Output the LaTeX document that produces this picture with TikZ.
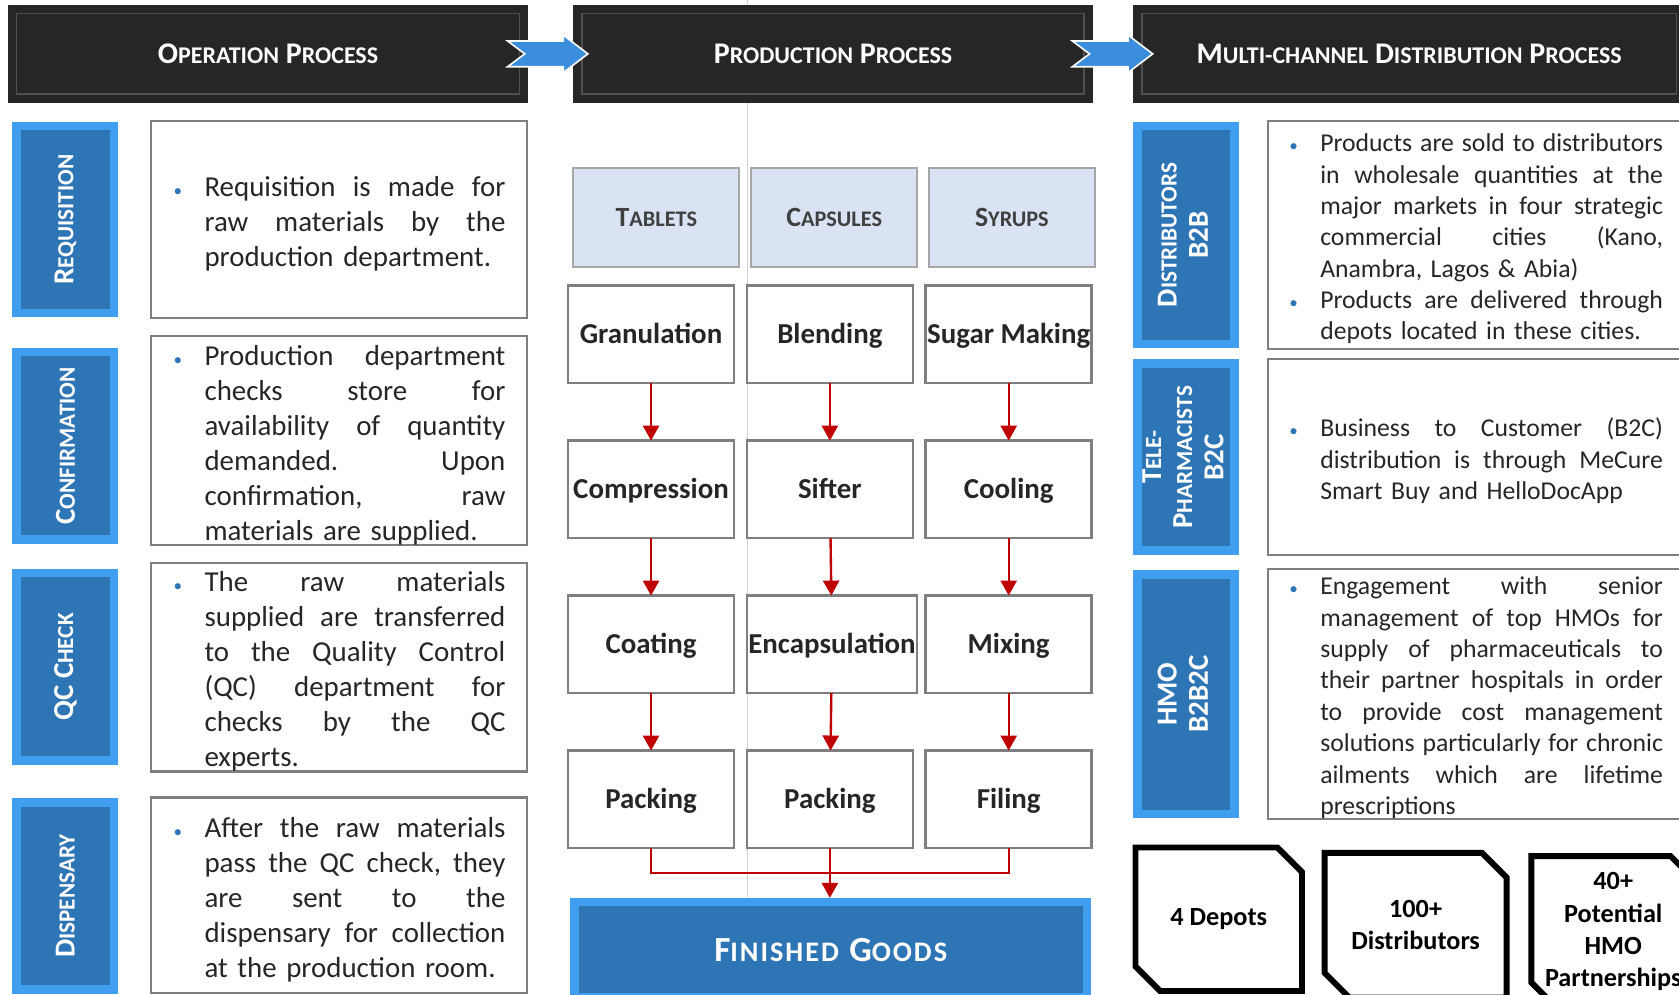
\documentclass[tikz,border=0pt]{standalone}
\usepackage{fontspec}
\setmainfont{Carlito}
\usepackage{xcolor}
\usepackage{tikz}
\usetikzlibrary{arrows.meta,positioning,calc}

\definecolor{headblack}{HTML}{262626}
\definecolor{headrim}{HTML}{4F4F4F}
\definecolor{bevelblue}{HTML}{3F9FEE}
\definecolor{coreblue}{HTML}{2E75B6}
\definecolor{chevblue}{HTML}{3A8EDC}
\definecolor{catfill}{HTML}{DAE3F3}
\definecolor{catline}{HTML}{A6A6A6}
\definecolor{cattext}{HTML}{404040}
\definecolor{boxgray}{HTML}{7F7F7F}
\definecolor{flowred}{HTML}{C00000}
\definecolor{inktext}{HTML}{262626}
\definecolor{guidegray}{HTML}{D0D0D0}

\hbadness=10000 \hfuzz=30pt
\frenchspacing
% fake small caps: big first letter, shrunk rest
\newcommand{\smc}[2]{#1\scalebox{0.8}{#2}}
\newlength{\bulind}\setlength{\bulind}{30pt}
\newcommand{\bul}{\llap{\textcolor{coreblue}{\fontsize{16}{16}\selectfont\textbullet}\hskip 21pt}}
\newcommand{\fb}{\rule{0pt}{1em}\bul}
% justified line / last line of a bullet text
\newcommand{\jline}[1]{\hbox to\hsize{\spaceskip=\fontdimen2\font plus 1fil\relax\hskip\bulind #1}}
\newcommand{\lline}[1]{\hbox to\hsize{\hskip\bulind #1\hfil}}

\begin{document}
\begin{tikzpicture}[
  x=1pt, y=-1pt,
  every node/.style={inner sep=0pt, outer sep=0pt},
  headbox/.style={fill=headblack, minimum height=91pt, text=white, font=\bfseries\fontsize{28}{34}\selectfont,
    path picture={\draw[headrim, line width=1.4pt] ([shift={(8pt,-8pt)}]path picture bounding box.north west) rectangle ([shift={(-8pt,8pt)}]path picture bounding box.south east);}},
  bevel/.style={fill=bevelblue,
    path picture={\fill[coreblue] ([shift={(8pt,-8pt)}]path picture bounding box.north west) rectangle ([shift={(-8pt,8pt)}]path picture bounding box.south east);}},
  sidebox/.style={bevel, minimum width=99pt, text=white, font=\bfseries\fontsize{27}{29}\selectfont},
  txtbox/.style={draw=boxgray, line width=2pt, fill=white, text=inktext, font=\fontsize{27}{32.7}\selectfont, text width=311pt, minimum width=351pt},
  rtxtbox/.style={txtbox, font=\fontsize{24}{29.3}\selectfont, text width=350pt, minimum width=388pt},
  catbox/.style={draw=catline, fill=catfill, line width=2pt, minimum width=155pt, minimum height=92pt, text=cattext, font=\bfseries\fontsize{26}{30}\selectfont, text height=19pt, text depth=2pt},
  procbox/.style={draw=boxgray, fill=white, line width=2.5pt, minimum width=155pt, minimum height=91pt, text=inktext, font=\bfseries\fontsize{27}{30}\selectfont, text height=20pt, text depth=3pt},
  goods/.style={bevel, minimum width=487pt, minimum height=97pt, text=white, font=\bfseries\fontsize{33}{36}\selectfont\addfontfeature{LetterSpace=7}},
  statnode/.style={align=center, font=\bfseries\fontsize{24.5}{30}\selectfont},
  statline/.style={draw=black, line width=5.5pt},
  flow/.style={draw=flowred, line width=2.2pt, -{Triangle[length=14pt,width=15pt]}},
  chev/.style={fill=chevblue, draw=white, line width=1.5pt}
]
  \useasboundingbox (0,0) rectangle (1568,929);
  \clip (0,0) rectangle (1568,929);
  \draw[guidegray, line width=1pt] (698.5,0) -- (698.5,838);

  % Process headers
  \node[headbox, minimum width=485.5pt] (ophead) at (250.3,50.3) {\smc{O}{PERATION} \smc{P}{ROCESS}};
  \node[headbox, minimum width=485pt] (prodhead) at (778,50.3) {\smc{P}{RODUCTION} \smc{P}{ROCESS}};
  \node[headbox, minimum width=515pt] (disthead) at (1316,50.3) {\smc{M}{ULTI-CHANNEL} \smc{D}{ISTRIBUTION} \smc{P}{ROCESS}};
  \foreach \h in {ophead,prodhead}
    \draw[chev, shift={(\h.east)}] (-19,-12) -- (-3,0) -- (-19,12) -- (33,12) -- (33,17.5) -- (56,0) -- (33,-17.5) -- (33,-12) -- cycle;

  % Operation steps
  \node[sidebox, minimum height=183pt] (req) at (61.1,205) {\rotatebox{90}{\smc{R}{EQUISITION}}};
  \node[sidebox, minimum height=183pt] (conf) at (61.1,416.4) {\rotatebox{90}{\smc{C}{ONFIRMATION}}};
  \node[sidebox, minimum height=183pt] (qc) at (61.1,622.8) {\rotatebox{90}{QC \smc{C}{HECK}}};
  \node[sidebox, minimum height=183pt] (disp) at (61.1,836.8) {\rotatebox{90}{\smc{D}{ISPENSARY}}};

  \node[txtbox, minimum height=184pt] (reqtxt) at (316.5,205) {%
    \jline{\fb Requisition is made for}
    \jline{raw materials by the}
    \lline{production department.}};
  \node[txtbox, minimum height=195.5pt] (conftxt) at (316.5,411.3) {%
    \jline{\fb Production department}
    \jline{checks store for}
    \jline{availability of quantity}
    \jline{demanded. Upon}
    \jline{confirmation, raw}
    \lline{materials are supplied.}};
  \node[txtbox, minimum height=184.6pt] (qctxt) at (316.5,623.1) {%
    \jline{\fb The raw materials}
    \jline{supplied are transferred}
    \jline{to the Quality Control}
    \jline{(QC) department for}
    \jline{checks by the QC}
    \lline{experts.}};
  \node[txtbox, minimum height=183pt] (disptxt) at (316.5,836.2) {%
    \jline{\fb After the raw materials}
    \jline{pass the QC check, they}
    \jline{are sent to the}
    \jline{dispensary for collection}
    \lline{at the production room.}};

  % Production lines
  \node[catbox] (tab) at (613,203) {\smc{T}{ABLETS}};
  \node[catbox, right=11pt of tab] (cap) {\smc{C}{APSULES}};
  \node[catbox, right=11pt of cap] (syr) {\smc{S}{YRUPS}};

  \node[procbox] (gran) at (608,312.3) {Granulation};
  \node[procbox, right=12pt of gran] (blend) {Blending};
  \node[procbox, right=12pt of blend] (sugar) {Sugar Making};
  \node[procbox, below=53.7pt of gran] (comp) {Compression};
  \node[procbox, below=53.7pt of blend] (sift) {Sifter};
  \node[procbox, below=53.7pt of sugar] (cool) {Cooling};
  \node[procbox, below=53.7pt of comp] (coat) {Coating};
  \node[procbox, minimum width=159pt, below right=53.7pt and 0pt of sift.south west] (encap) {Encapsulation};
  \node[procbox, below=53.7pt of cool] (mix) {Mixing};
  \node[procbox, below=53.7pt of coat] (packt) {Packing};
  \node[procbox, below right=53.7pt and 0pt of encap.south west] (packc) {Packing};
  \node[procbox, below=53.7pt of mix] (fil) {Filing};

  \node[goods] (fg) at (775.8,887) {\smc{F}{INISHED} \smc{G}{OODS}};

  \foreach \a/\b in {gran/comp,comp/coat,coat/packt,blend/sift,sift/encap,encap/packc,sugar/cool,cool/mix,mix/fil}
    \draw[flow] (\a) -- (\b);
  \coordinate (mj) at ($(packc.south)!0.5!(fg.north)$);
  \draw[flowred, line width=2.2pt] (packt.south) |- (mj) -| (fil.south);
  \draw[flow] (packc.south) -- (packc.south |- fg.north);

  % Distribution channels
  \node[sidebox, minimum height=211.7pt] (b2b) at (1107.6,219.5) {\rotatebox{90}{\begin{tabular}{@{}c@{}}\smc{D}{ISTRIBUTORS}\\B2B\end{tabular}}};
  \node[sidebox, minimum height=182.7pt] (b2c) at (1107.6,427) {\rotatebox{90}{\begin{tabular}{@{}c@{}}\smc{T}{ELE-}\\\smc{P}{HARMACISTS}\\B2C\end{tabular}}};
  \node[sidebox, minimum height=232pt] (hmo) at (1107.6,648.3) {\rotatebox{90}{\begin{tabular}{@{}c@{}}HMO\\B2B2C\end{tabular}}};

  \node[rtxtbox, minimum height=213.5pt] (b2btxt) at (1378,219.5) {%
    \jline{\fb Products are sold to distributors}
    \jline{in wholesale quantities at the}
    \jline{major markets in four strategic}
    \jline{commercial cities (Kano,}
    \lline{Anambra, Lagos \& Abia)}
    \jline{\bul Products are delivered through}
    \lline{depots located in these cities.}};
  \node[rtxtbox, minimum height=183pt] (b2ctxt) at (1378,427) {%
    \jline{\fb Business to Customer (B2C)}
    \jline{distribution is through MeCure}
    \lline{Smart Buy and HelloDocApp}};
  \node[rtxtbox, minimum height=234pt] (hmotxt) at (1378,648) {%
    \jline{\fb Engagement with senior}
    \jline{management of top HMOs for}
    \jline{supply of pharmaceuticals to}
    \jline{their partner hospitals in order}
    \jline{to provide cost management}
    \jline{solutions particularly for chronic}
    \jline{ailments which are lifetime}
    \lline{prescriptions}};

  % Key figures
  \node[statnode, minimum width=155.5pt, minimum height=134pt] (depots) at (1138.2,858.5) {4 Depots};
  \node[statnode, minimum width=170pt, minimum height=135pt] (dists) at (1322,864) {100+\\Distributors};
  \node[statnode, minimum width=153pt, minimum height=141pt] (hmos) at (1506.6,870) {40+\\Potential\\HMO\\Partnerships};
  \foreach \s in {depots,dists,hmos}
    \draw[statline] (\s.north west) -- ([xshift=-23pt]\s.north east) -- ([yshift=-23pt]\s.north east)
      -- (\s.south east) -- ([xshift=23pt]\s.south west) -- ([yshift=23pt]\s.south west) -- cycle;
\end{tikzpicture}
\end{document}
